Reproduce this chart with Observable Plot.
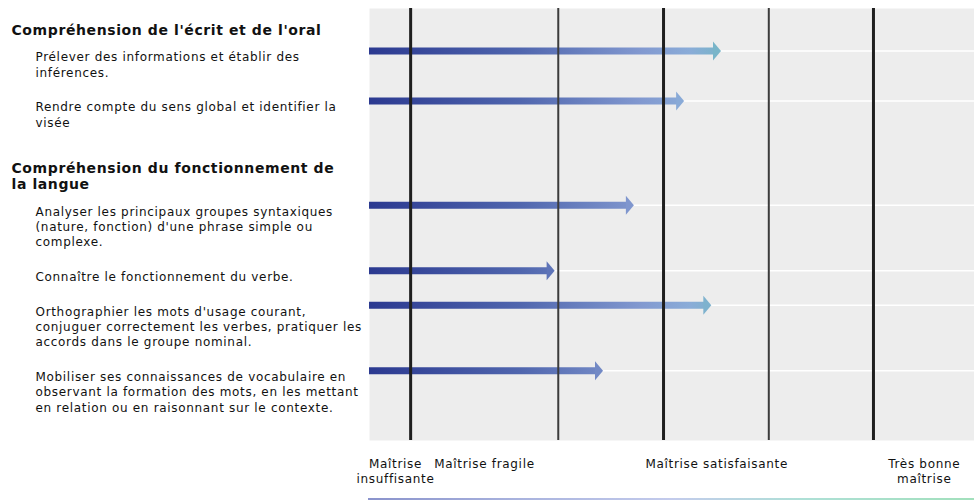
<!DOCTYPE html>
<html>
<head>
<meta charset="utf-8">
<script src="https://cdn.jsdelivr.net/npm/d3@7"></script>
<script src="https://cdn.jsdelivr.net/npm/@observablehq/plot@0.6"></script>
<style>
  body { margin: 0; background: #fff; font-family: "DejaVu Sans", sans-serif; }
  #chart svg { display: block; }
  #chart text { letter-spacing: 0.68px; }
  #chart .hdr text { letter-spacing: 0.6px; }
  #bar { margin-left: 368px; width: 606px; height: 2px;
         background: linear-gradient(to right, #8a93cc 0%, #a9b3de 25%, #c3cbec 50%, #aee0d6 72%, #a2e0bc 100%); }
</style>
</head>
<body>
<div id="chart"></div>
<div id="bar"></div>
<script>
// ---- data ----
const groupLabels = [
  "Compréhension de l'écrit et de l'oral",
  "Compréhension du fonctionnement de\nla langue"
];
const skillLabels = [
  "Prélever des informations et établir des\ninférences.",
  "Rendre compte du sens global et identifier la\nvisée",
  "Analyser les principaux groupes syntaxiques\n(nature, fonction) d'une phrase simple ou\ncomplexe.",
  "Connaître le fonctionnement du verbe.",
  "Orthographier les mots d'usage courant,\nconjuguer correctement les verbes, pratiquer les\naccords dans le groupe nominal.",
  "Mobiliser ses connaissances de vocabulaire en\nobservant la formation des mots, en les mettant\nen relation ou en raisonnant sur le contexte."
];
const skillGroup = [0, 0, 1, 1, 1, 1];
const skillScores = [58.1, 52.0, 43.7, 30.6, 56.5, 38.6];
const levelLabels = ["Maîtrise\ninsuffisante", "Maîtrise fragile", "Maîtrise satisfaisante", "Très bonne\nmaîtrise"];
const levelCenters = [4.3, 19.0, 57.4, 91.7];
const thresholds = [6.8, 31.2, 48.6, 66.0, 83.3];
const thresholdMajor = [true, false, true, false, true];

// ---- styles ----
const gradStops = [[0, "#2b3990"], [25, "#5066ae"], [45, "#8299d0"], [53, "#8aacd8"], [59, "#76b6c6"], [100, "#8fd0c0"]];
function colorAt(v) {
  for (let i = 1; i < gradStops.length; i++) {
    const [v0, c0] = gradStops[i - 1], [v1, c1] = gradStops[i];
    if (v <= v1) return d3.interpolateRgb(c0, c1)((v - v0) / (v1 - v0));
  }
  return gradStops[gradStops.length - 1][1];
}

// ---- layout of rows (derived from number of text lines) ----
const LH_ITEM = 15.5, LH_HEAD = 16.2, GAP = 34.5, HEAD_GAP = 26, HEAD_EXTRA = 12;
const headers = [], items = [];
let cursor = 20, prevH = 0, prevKind = null;
groupLabels.forEach((g, gi) => {
  if (prevKind) cursor += prevH + GAP + HEAD_EXTRA;
  headers.push({label: g, y: cursor});
  prevH = (g.split("\n").length - 1) * LH_HEAD; prevKind = "head";
  skillLabels.forEach((s, si) => {
    if (skillGroup[si] !== gi) return;
    cursor += prevH + (prevKind === "head" ? HEAD_GAP : GAP);
    items.push({label: s, score: skillScores[si], y: cursor, arrowY: cursor - 3.5});
    prevH = (s.split("\n").length - 1) * LH_ITEM; prevKind = "item";
  });
});

const headSymbol = {
  draw(ctx) { ctx.moveTo(0, 0); ctx.lineTo(-8, -9.5); ctx.lineTo(-8, 9.5); ctx.closePath(); }
};

function gradientDefs(index, scales) {
  const defs = d3.create("svg:defs");
  const lg = defs.append("linearGradient").attr("id", "arrowGrad")
    .attr("gradientUnits", "userSpaceOnUse")
    .attr("x1", scales.x(0)).attr("x2", scales.x(100)).attr("y1", 0).attr("y2", 0);
  gradStops.forEach(([v, c]) => lg.append("stop").attr("offset", v / 100).attr("stop-color", c));
  return defs.node();
}

const chart = Plot.plot({
  width: 974, height: 498,
  marginLeft: 369, marginRight: 0, marginTop: 8, marginBottom: 58,
  style: {fontFamily: "DejaVu Sans, sans-serif", background: "white", color: "#111"},
  x: {domain: [0, 100], axis: null},
  y: {domain: [0, 432], reverse: true, axis: null},
  color: {type: "identity"},
  marks: [
    gradientDefs,
    Plot.frame({fill: "#ededed", stroke: "none"}),
    Plot.ruleY(items, {y: "arrowY", stroke: "#ffffff", strokeWidth: 1.5}),
    Plot.ruleY(items, {y: "arrowY", x1: 0, x2: d => d.score - 0.8, stroke: "url(#arrowGrad)", strokeWidth: 7}),
    Plot.dot(items, {x: "score", y: "arrowY", r: 1, symbol: headSymbol, fill: d => colorAt(d.score)}),
    Plot.ruleX(thresholds.filter((t, i) => thresholdMajor[i]), {stroke: "#1f1f1f", strokeWidth: 3}),
    Plot.ruleX(thresholds.filter((t, i) => !thresholdMajor[i]), {stroke: "#3c3c3c", strokeWidth: 2}),
    Plot.text(headers, {y: "y", text: "label", frameAnchor: "left", dx: -358, textAnchor: "start",
      lineAnchor: "top", dy: -4.9, fontSize: 14, fontWeight: "bold", lineHeight: 1.16, className: "hdr"}),
    Plot.text(items, {y: "y", text: "label", frameAnchor: "left", dx: -334, textAnchor: "start",
      lineAnchor: "top", dy: -4.2, fontSize: 12, lineHeight: 1.29}),
    Plot.text(levelCenters, {x: d => d, text: (d, i) => levelLabels[i], frameAnchor: "bottom",
      lineAnchor: "top", dy: 16.8, fontSize: 12, lineHeight: 1.25})
  ]
});
document.getElementById("chart").append(chart);
</script>
</body>
</html>
